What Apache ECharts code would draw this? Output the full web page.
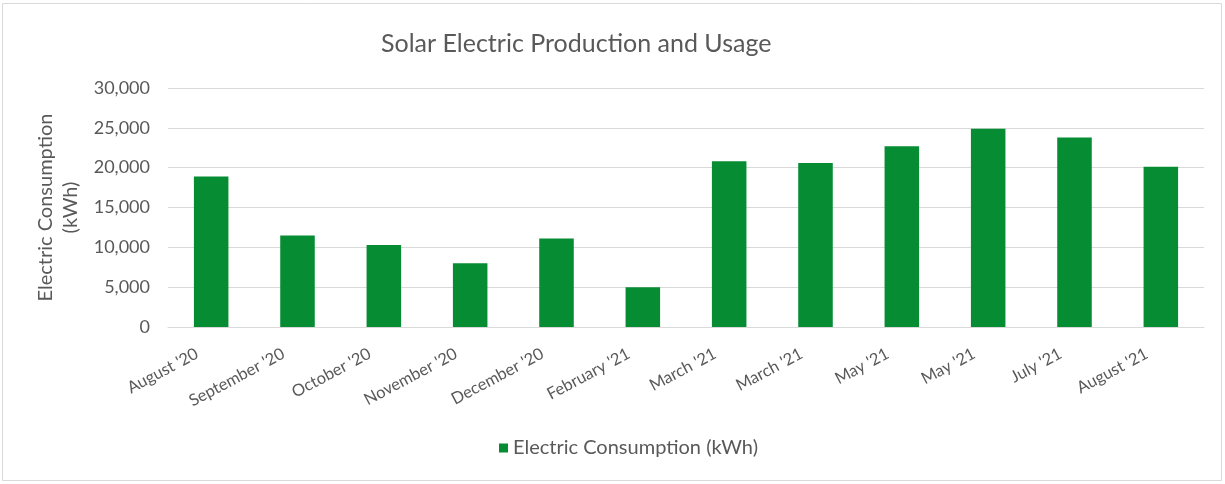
<!DOCTYPE html>
<html>
<head>
<meta charset="utf-8">
<script src="https://cdn.jsdelivr.net/npm/echarts@6/dist/echarts.min.js"></script>
<style>
  html, body { margin: 0; padding: 0; background: #fff; }
  #chart { width: 1225px; height: 484px; }
</style>
</head>
<body>
<div id="chart"></div>
<script>
// Monthly billing periods
const months = [
  "August '20", "September '20", "October '20", "November '20", "December '20",
  "February '21", "March '21", "March '21", "May '21", "May '21", "July '21", "August '21"
];
// Electric consumption per period, kWh
const consumption = [18900, 11500, 10300, 8000, 11100, 5000, 20800, 20600, 22700, 24900, 23800, 20100];
// Value axis ticks
const yMin = 0, yMax = 30000, yStep = 5000;

const textColor = '#595959';
const font = 'Lato, "Open Sans", sans-serif';

const chart = echarts.init(document.getElementById('chart'), null, { renderer: 'canvas' });
chart.setOption({
  animation: false,
  textStyle: { fontFamily: font },
  graphic: [{
    type: 'rect',
    shape: { x: 2.5, y: 3.5, width: 1219, height: 477 },
    style: { fill: 'none', stroke: '#d9d9d9', lineWidth: 1 },
    silent: true
  }],
  title: {
    text: 'Solar Electric Production and Usage',
    left: 376,
    top: 26,
    textStyle: { fontFamily: font, fontSize: 25, fontWeight: 'normal', color: textColor }
  },
  legend: {
    bottom: 21,
    left: 494,
    itemWidth: 9,
    itemHeight: 9,
    itemGap: 10,
    icon: 'rect',
    textStyle: { fontFamily: font, fontSize: 20, color: textColor },
    data: ['Electric Consumption (kWh)']
  },
  grid: { left: 168, right: 21, top: 88, bottom: 157, containLabel: false },
  xAxis: {
    type: 'category',
    data: months,
    axisLine: { show: true, lineStyle: { color: '#d9d9d9', width: 1 } },
    axisTick: { show: false },
    axisLabel: {
      rotate: 28,
      interval: 0,
      margin: 18,
      padding: [0, 16, 0, 0],
      fontFamily: font,
      fontSize: 16.5,
      color: textColor
    }
  },
  yAxis: {
    type: 'value',
    min: yMin,
    max: yMax,
    interval: yStep,
    name: 'Electric Consumption\n(kWh)',
    nameLocation: 'middle',
    nameGap: 85,
    nameRotate: 90,
    nameTextStyle: { fontFamily: font, fontSize: 20, color: textColor, lineHeight: 25 },
    axisLine: { show: false },
    axisTick: { show: false },
    axisLabel: {
      margin: 18,
      fontFamily: font,
      fontSize: 18,
      color: textColor,
      formatter: v => v.toLocaleString('en-US')
    },
    splitLine: { lineStyle: { color: '#d9d9d9', width: 1 } }
  },
  series: [{
    name: 'Electric Consumption (kWh)',
    type: 'bar',
    data: consumption,
    barWidth: '40%',
    itemStyle: { color: '#068c33' }
  }]
});
</script>
</body>
</html>
